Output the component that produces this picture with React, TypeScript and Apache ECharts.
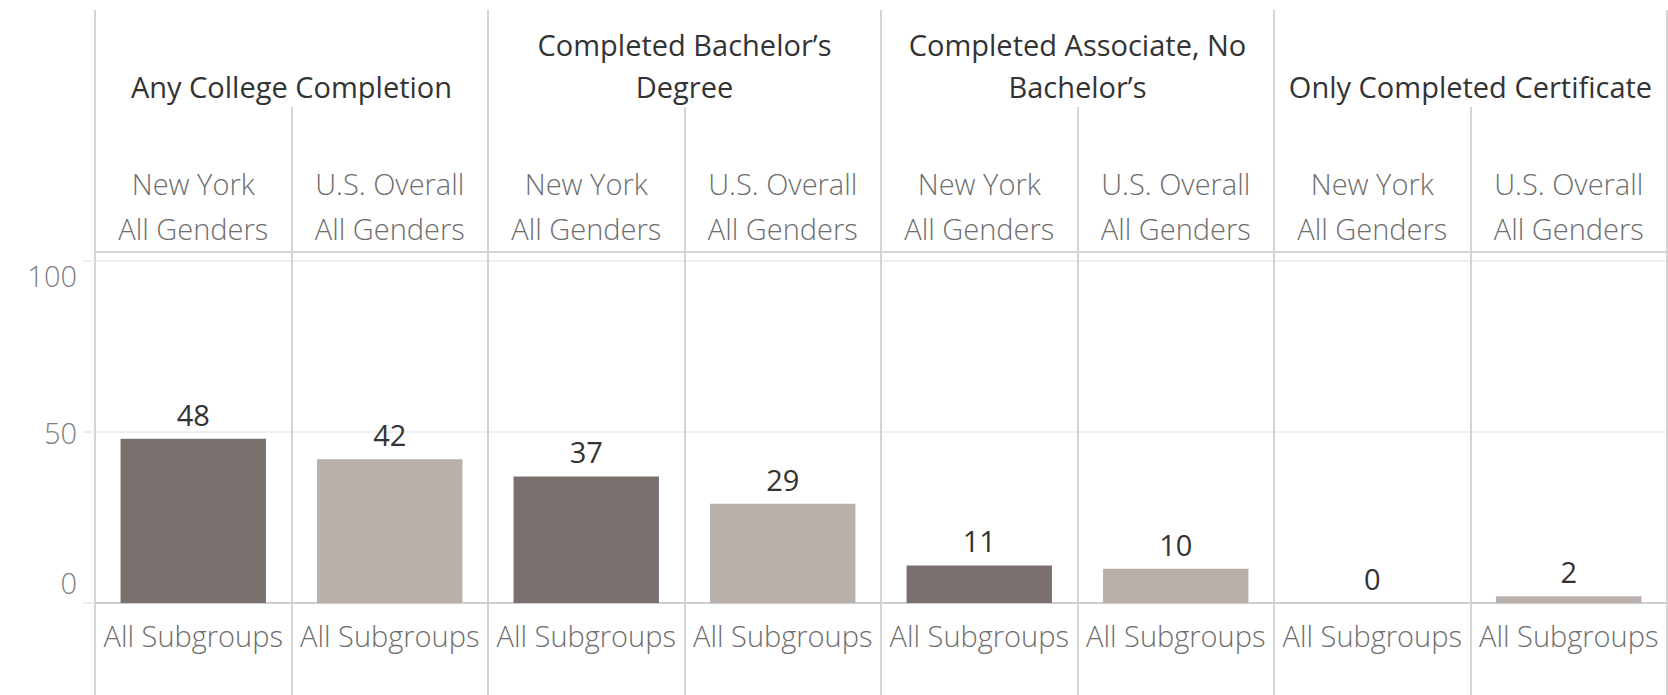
import React, { useEffect, useRef } from "react";
import * as echarts from "echarts";

const groups = [
  "Any College Completion",
  "Completed Bachelor’s\nDegree",
  "Completed Associate, No\nBachelor’s",
  "Only Completed Certificate",
];
const regions = [
  "New York\nAll Genders",
  "U.S. Overall\nAll Genders",
  "New York\nAll Genders",
  "U.S. Overall\nAll Genders",
  "New York\nAll Genders",
  "U.S. Overall\nAll Genders",
  "New York\nAll Genders",
  "U.S. Overall\nAll Genders",
];
const subgroups = [
  "All Subgroups",
  "All Subgroups",
  "All Subgroups",
  "All Subgroups",
  "All Subgroups",
  "All Subgroups",
  "All Subgroups",
  "All Subgroups",
];
const values = [48, 42, 37, 29, 11, 10, 0, 2];
const regionColors = ["#7a706e", "#bab0ab"];
const yMin = 0;
const yMax = 100;
const yInterval = 50;

const FONT = "'Open Sans', 'Noto Sans', sans-serif";
const LINE = "#d4d4d4";
const GREY = "#6e6e6e";

export default function App() {
  const ref = useRef<HTMLDivElement>(null);
  useEffect(() => {
    if (!ref.current) return;
    const chart = echarts.init(ref.current, undefined, { renderer: "svg" });
    chart.setOption({
      animation: false,
      grid: { left: 95, right: 1, top: 261, bottom: 92, containLabel: false },
      xAxis: [
        {
          type: "category",
          position: "bottom",
          data: subgroups,
          axisLine: { show: true, lineStyle: { color: "#cfcfcf", width: 2 } },
          axisTick: { show: true, interval: 0, length: 92, lineStyle: { color: LINE, width: 2 } },
          splitLine: { show: true, interval: 0, lineStyle: { color: LINE, width: 2 } },
          axisLabel: { interval: 0, margin: 18, color: GREY, fontSize: 29, fontWeight: 300, fontFamily: FONT },
        },
        {
          type: "category",
          position: "top",
          data: regions,
          axisLine: { show: false },
          axisTick: { show: true, interval: 0, length: 154, lineStyle: { color: LINE, width: 2 } },
          axisLabel: { interval: 0, margin: 10, color: GREY, fontSize: 29, fontWeight: 300, lineHeight: 45, fontFamily: FONT },
        },
        {
          type: "category",
          position: "top",
          offset: 154,
          data: groups,
          axisLine: { show: false },
          axisTick: { show: true, interval: 0, length: 97, lineStyle: { color: LINE, width: 2 } },
          axisLabel: { interval: 0, margin: 0, color: "#333", fontSize: 29, fontWeight: 500, lineHeight: 42, fontFamily: FONT },
        },
        {
          type: "category",
          position: "top",
          offset: 9,
          data: regions,
          axisLine: { show: true, lineStyle: { color: LINE, width: 2 } },
          axisTick: { show: false },
          axisLabel: { show: false },
        },
      ],
      yAxis: {
        type: "value",
        min: yMin,
        max: yMax,
        interval: yInterval,
        axisLine: { show: false },
        axisTick: { show: true, length: 12, lineStyle: { color: "#eeeeee", width: 2 } },
        splitLine: { show: true, lineStyle: { color: "#efefef", width: 2 } },
        axisLabel: {
          margin: 18,
          color: "#808080",
          fontSize: 29,
          fontWeight: 300,
          lineHeight: 28,
          fontFamily: FONT,
          verticalAlignMinLabel: "bottom",
          verticalAlignMaxLabel: "top",
          formatter: (v: number) => (v === yMin ? `{lo|${v}}` : `${v}`),
          rich: { lo: { lineHeight: 42, fontSize: 29, fontWeight: 300, color: "#808080", fontFamily: FONT } },
        },
      },
      series: [
        {
          type: "bar",
          xAxisIndex: 0,
          yAxisIndex: 0,
          barWidth: "74%",
          data: values.map((v, i) => ({
            value: v,
            itemStyle: { color: regionColors[i % 2] },
          })),
          label: {
            show: true,
            position: "top",
            distance: 10,
            color: "#333",
            fontSize: 29,
            fontFamily: FONT,
          },
        },
      ],
    });
    return () => chart.dispose();
  }, []);
  return (
    <div
      ref={ref}
      style={{ position: "absolute", left: 0, top: 0, width: 1668, height: 695, background: "#fff" }}
    />
  );
}
